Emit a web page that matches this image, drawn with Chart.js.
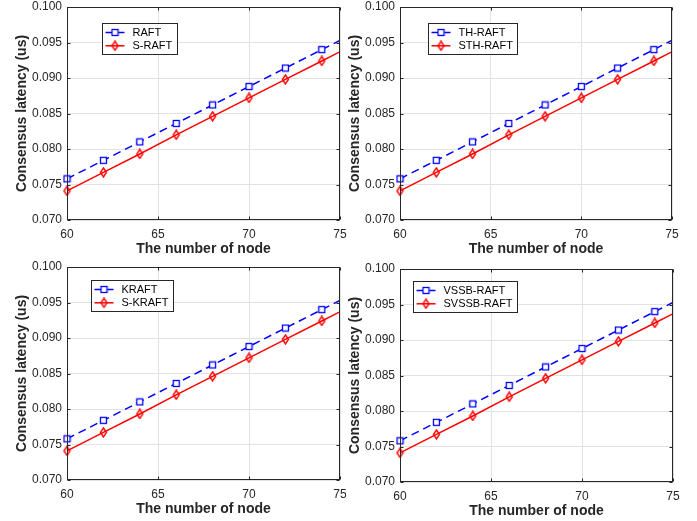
<!DOCTYPE html>
<html>
<head>
<meta charset="utf-8">
<script src="https://cdn.jsdelivr.net/npm/chart.js@4.4.0/dist/chart.umd.min.js"></script>
<style>
  html, body { margin: 0; padding: 0; background: #fff; }
  body { width: 697px; height: 521px; position: relative; overflow: hidden; }
  .panel { position: absolute; }
</style>
</head>
<body>
<div class="panel" id="p1"><canvas id="c1"></canvas></div>
<div class="panel" id="p2"><canvas id="c2"></canvas></div>
<div class="panel" id="p3"><canvas id="c3"></canvas></div>
<div class="panel" id="p4"><canvas id="c4"></canvas></div>
<script>
// valores
const nodos = [60, 62, 64, 66, 68, 70, 72, 74, 76];
const latenciaBase = [0.0758, 0.0784, 0.0810, 0.0836, 0.0862, 0.0888, 0.0914, 0.0940, 0.0966];
const latenciaS = [0.0741, 0.0767, 0.0793, 0.0820, 0.0846, 0.0872, 0.0898, 0.0924, 0.0950];
const etiquetasBase = ['RAFT', 'TH-RAFT', 'KRAFT', 'VSSB-RAFT'];
const etiquetasS = ['S-RAFT', 'STH-RAFT', 'S-KRAFT', 'SVSSB-RAFT'];
const ticksX = [60, 65, 70, 75];
const ticksY = [0.070, 0.075, 0.080, 0.085, 0.090, 0.095, 0.100];
const tituloX = 'The number of node';
const tituloY = 'Consensus latency (us)';

// posicion de cada subgrafico
const paneles = [
  { id: 'c1', left: 0,   top: 0,   w: 273, h: 213, leg: { x: 35, y: 16 } },
  { id: 'c2', left: 333, top: 0,   w: 272, h: 213, leg: { x: 28, y: 16 } },
  { id: 'c3', left: 0,   top: 260, w: 273, h: 213, leg: { x: 24, y: 13 } },
  { id: 'c4', left: 333, top: 262, w: 273, h: 213, leg: { x: 13, y: 12 } }
];

const FUENTE = '"Liberation Sans", Arial, Helvetica, sans-serif';
const GRIS = '#262626';

// marcadores tipo matlab
let marcaCuadro = () => {
  let c = document.createElement('canvas');
  c.width = 9; c.height = 9;
  let g = c.getContext('2d');
  g.fillStyle = '#fff';
  g.strokeStyle = '#0000ff';
  g.lineWidth = 1.3;
  g.fillRect(1.5, 1.5, 6, 6);
  g.strokeRect(1.5, 1.5, 6, 6);
  return c;
};

let marcaRombo = () => {
  let c = document.createElement('canvas');
  c.width = 9; c.height = 11;
  let g = c.getContext('2d');
  g.strokeStyle = '#ff0000';
  g.lineWidth = 1.4;
  g.beginPath();
  g.moveTo(4.5, 1);
  g.lineTo(7.5, 5.5);
  g.lineTo(4.5, 10);
  g.lineTo(1.5, 5.5);
  g.closePath();
  g.stroke();
  return c;
};

const cuadro = marcaCuadro();
const rombo = marcaRombo();

// caja de ejes, ticks hacia adentro y leyenda
const cajaPlugin = {
  id: 'caja',
  afterDatasetsDraw(chart, args, opts) {
    const ctx = chart.ctx;
    const a = chart.chartArea;
    const L = Math.round(a.left) + 0.5, R = Math.round(a.right) - 0.5;
    const T = Math.round(a.top) + 0.5, B = Math.round(a.bottom) - 0.5;
    ctx.save();
    ctx.strokeStyle = GRIS;
    ctx.lineWidth = 1;
    ctx.strokeRect(L, T, R - L, B - T);
    ctx.beginPath();
    ticksX.forEach(v => {
      let px = Math.round(chart.scales.x.getPixelForValue(v)) + 0.5;
      ctx.moveTo(px, B); ctx.lineTo(px, B - 3);
      ctx.moveTo(px, T); ctx.lineTo(px, T + 3);
    });
    ticksY.forEach(v => {
      let py = Math.round(chart.scales.y.getPixelForValue(v)) + 0.5;
      ctx.moveTo(L, py); ctx.lineTo(L + 3, py);
      ctx.moveTo(R, py); ctx.lineTo(R - 3, py);
    });
    ctx.stroke();

    // leyenda
    ctx.font = '11px ' + FUENTE;
    const ds = chart.data.datasets;
    let ancho = Math.max(...ds.map(d => ctx.measureText(d.label).width));
    let bx = Math.round(a.left + opts.x) + 0.5;
    let by = Math.round(a.top + opts.y) + 0.5;
    let bw = Math.round(30 + ancho + 5);
    let bh = 31;
    ctx.fillStyle = '#fff';
    ctx.fillRect(bx, by, bw, bh);
    ctx.strokeStyle = GRIS;
    ctx.strokeRect(bx, by, bw, bh);
    ds.forEach((d, i) => {
      let y = by + 9 + i * 13.3;
      ctx.strokeStyle = d.borderColor;
      ctx.lineWidth = 1.5;
      ctx.setLineDash(d.borderDash || []);
      ctx.beginPath();
      ctx.moveTo(bx + 3, y);
      ctx.lineTo(bx + 22, y);
      ctx.stroke();
      ctx.setLineDash([]);
      let m = d.pointStyle;
      ctx.drawImage(m, bx + 12.5 - m.width / 2, y - m.height / 2);
      ctx.fillStyle = '#000';
      ctx.textBaseline = 'middle';
      ctx.textAlign = 'left';
      ctx.fillText(d.label, bx + 30, y);
    });
    ctx.restore();
  }
};

paneles.forEach((p, k) => {
  let div = document.getElementById('p' + (k + 1));
  div.style.left = p.left + 'px';
  div.style.top = p.top + 'px';

  let config = {
    type: 'line',
    data: {
      datasets: [
        {
          label: etiquetasBase[k],
          data: nodos.map((x, i) => ({ x: x, y: latenciaBase[i] })),
          borderColor: '#0000ff',
          borderWidth: 1.5,
          borderDash: [8, 5],
          pointStyle: cuadro,
          pointRadius: 4,
          clip: { left: 10, top: 10, right: 0, bottom: 10 }
        },
        {
          label: etiquetasS[k],
          data: nodos.map((x, i) => ({ x: x, y: latenciaS[i] })),
          borderColor: '#ff0000',
          borderWidth: 1.5,
          pointStyle: rombo,
          pointRadius: 4,
          clip: { left: 10, top: 10, right: 0, bottom: 10 }
        }
      ]
    },
    options: {
      responsive: false,
      animation: false,
      layout: { padding: { left: 0, top: 7, right: 9, bottom: 0 } },
      plugins: {
        legend: { display: false },
        tooltip: { enabled: false },
        caja: p.leg
      },
      scales: {
        x: {
          type: 'linear',
          min: ticksX[0],
          max: ticksX[ticksX.length - 1],
          afterBuildTicks: s => { s.ticks = ticksX.map(v => ({ value: v })); },
          // alto fijo y sin margen extra por las etiquetas de los extremos
          afterFit: s => { s.height = 40; s.paddingLeft = 0; s.paddingRight = 0; },
          grid: { color: '#e2e2e2', drawTicks: false },
          border: { display: false },
          ticks: { color: GRIS, padding: 7, font: { family: FUENTE, size: 12 } },
          title: {
            display: true, text: tituloX, color: GRIS,
            font: { family: FUENTE, size: 14, weight: 'bold' },
            padding: { top: 0, bottom: 2 }
          }
        },
        y: {
          type: 'linear',
          min: ticksY[0],
          max: ticksY[ticksY.length - 1],
          afterBuildTicks: s => { s.ticks = ticksY.map(v => ({ value: v })); },
          afterFit: s => { s.width = 67; s.paddingTop = 0; s.paddingBottom = 0; },
          grid: { color: '#e2e2e2', drawTicks: false },
          border: { display: false },
          ticks: {
            color: GRIS, padding: 5, font: { family: FUENTE, size: 12 },
            callback: v => v.toFixed(3)
          },
          title: {
            display: true, text: tituloY, color: GRIS,
            font: { family: FUENTE, size: 14, weight: 'bold' },
            padding: { top: 14, bottom: 0 }
          }
        }
      }
    },
    plugins: [cajaPlugin]
  };

  let canvas = document.getElementById(p.id);
  canvas.width = 67 + p.w + 9;
  canvas.height = 7 + p.h + 40;
  new Chart(canvas, config);
});
</script>
</body>
</html>
